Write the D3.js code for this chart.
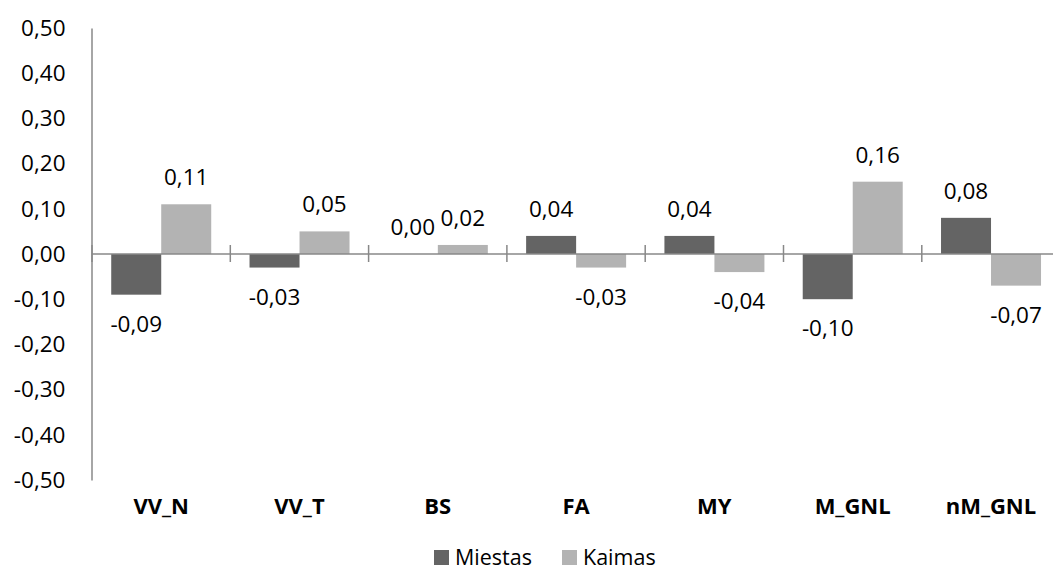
<!DOCTYPE html>
<html>
<head>
<meta charset="utf-8">
<style>
body { margin: 0; background: #fff; }
text { font-family: "Open Sans", sans-serif; fill: #000; }
</style>
</head>
<body>
<script src="https://cdnjs.cloudflare.com/ajax/libs/d3/7.8.5/d3.min.js"></script>
<script>

// data
var categories = ["VV_N", "VV_T", "BS", "FA", "MY", "M_GNL", "nM_GNL"];
var series = ["Miestas", "Kaimas"];
var miestas = [-0.09, -0.03, 0.00, 0.04, 0.04, -0.10, 0.08];
var kaimas  = [0.11, 0.05, 0.02, -0.03, -0.04, 0.16, -0.07];
var yTicks = [0.5, 0.4, 0.3, 0.2, 0.1, 0, -0.1, -0.2, -0.3, -0.4, -0.5];
var colors = ["#646464", "#b3b3b3"];

var W = 1053, H = 571;
var plotLeft = 92, plotRight = 92 + 7 * 138.3, plotTop = 28, plotBottom = 480;

var fmt = v => (v < -0.0001 ? "-" : "") + Math.abs(v).toFixed(2).replace(".", ",");

var svg = d3.select("body").append("svg")
	.attr("width", W)
	.attr("height", H);

var x0 = d3.scaleBand()
	.domain(categories)
	.range([plotLeft, plotRight])
	.padding(0);

var bw = x0.bandwidth();

var x1 = d3.scaleBand()
	.domain(series)
	.range([bw * 0.139, bw * 0.139 + 100]);

var y = d3.scaleLinear()
	.domain([-0.5, 0.5])
	.range([plotBottom, plotTop]);

// y axis
var yAxis = svg.append("g")
	.attr("transform", "translate(" + (plotLeft - 0.5) + ",0)")
	.call(d3.axisLeft(y).tickValues(yTicks).tickFormat(fmt).tickSizeInner(0).tickSizeOuter(0).tickPadding(26));
yAxis.select(".domain").attr("stroke", "#888").attr("stroke-width", 1.5);
yAxis.selectAll("text")
	.style("font-family", "'Open Sans', sans-serif")
	.style("font-size", "22.5px")
	.attr("fill", "#000");

// bars
var rows = categories.map((c, i) => ({cat: c, vals: [miestas[i], kaimas[i]]}));

var groups = svg.append("g").selectAll("g")
	.data(rows)
  .enter().append("g")
	.attr("transform", d => "translate(" + x0(d.cat) + ",0)");

groups.selectAll("rect")
	.data(d => d.vals.map((v, j) => ({s: series[j], v: v, j: j})))
  .enter().append("rect")
	.attr("x", d => x1(d.s))
	.attr("width", x1.bandwidth())
	.attr("y", d => y(Math.max(0, d.v)))
	.attr("height", d => Math.abs(y(d.v) - y(0)))
	.attr("fill", d => colors[d.j]);

// zero line with boundary ticks
svg.append("line")
	.attr("x1", plotLeft).attr("x2", plotRight)
	.attr("y1", y(0)).attr("y2", y(0))
	.attr("stroke", "#888").attr("stroke-width", 1.5);

var bounds = categories.map(c => x0(c)).concat([plotRight]);
svg.append("g").selectAll("line")
	.data(bounds)
  .enter().append("line")
	.attr("x1", d => d).attr("x2", d => d)
	.attr("y1", y(0) - 9).attr("y2", y(0) + 8)
	.attr("stroke", "#888").attr("stroke-width", 1.5);

// value labels
groups.selectAll("text.val")
	.data(d => d.vals.map((v, j) => ({s: series[j], v: v})))
  .enter().append("text")
	.attr("class", "val")
	.attr("x", d => x1(d.s) + x1.bandwidth() / 2)
	.attr("y", d => d.v >= 0 ? y(d.v) - 19 : y(d.v) + 37)
	.attr("text-anchor", "middle")
	.style("font-size", "22.5px")
	.text(d => fmt(d.v));

// category labels
svg.append("g").selectAll("text")
	.data(categories)
  .enter().append("text")
	.attr("x", d => x0(d) + bw / 2)
	.attr("y", 514)
	.attr("text-anchor", "middle")
	.style("font-size", "22px")
	.style("font-weight", "bold")
	.text(d => d);

// legend
var legendX = [434, 562];
var legend = svg.append("g").selectAll("g")
	.data(series)
  .enter().append("g")
	.attr("transform", (d, i) => "translate(" + legendX[i] + ",550)");

legend.append("rect")
	.attr("width", 15)
	.attr("height", 15)
	.attr("fill", (d, i) => colors[i]);

legend.append("text")
	.attr("x", 21)
	.attr("y", 15)
	.style("font-size", "21.5px")
	.text(d => d);

</script>
</body>
</html>
